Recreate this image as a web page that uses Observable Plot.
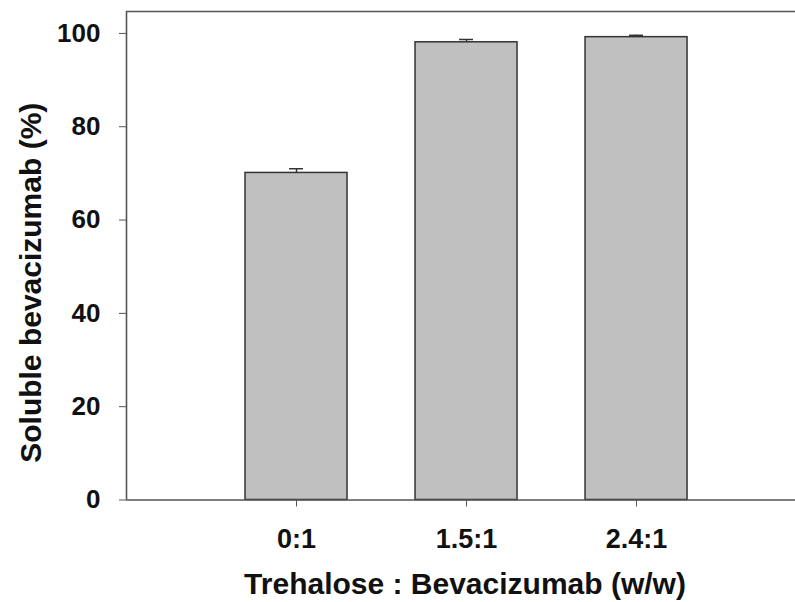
<!DOCTYPE html>
<html>
<head>
<meta charset="utf-8">
<script src="https://cdn.jsdelivr.net/npm/d3@7"></script>
<script src="https://cdn.jsdelivr.net/npm/@observablehq/plot@0.6"></script>
<style>
  body { margin: 0; background: #fff; }
  #chart svg { display: block; }
</style>
</head>
<body>
<div id="chart"></div>
<script>
// Ratio groups, mean soluble fraction and its error (upper whisker)
const ratios = ["0:1", "1.5:1", "2.4:1"];
const solublePct = [70.1, 98.1, 99.2];
const errorPct = [0.9, 0.6, 0.4];
const yTicks = [0, 20, 40, 60, 80, 100];
const yMax = 104.7;
const xTitle = "Trehalose : Bevacizumab (w/w)";
const yTitle = "Soluble bevacizumab (%)";

const rows = ratios.map((r, i) => ({pos: i + 1, ratio: r, value: solublePct[i], err: errorPct[i]}));

const font = "'Liberation Sans', Arial, sans-serif";
const axisColor = "#555";

const chart = Plot.plot({
  width: 795,
  height: 602,
  marginTop: 11,
  marginLeft: 126,
  marginRight: 0,
  marginBottom: 102.5,
  style: {fontFamily: font, fontWeight: "bold", fontSize: "25px", color: "#111", background: "#fff"},
  x: {type: "linear", domain: [0, 3.935], label: null},
  y: {domain: [0, yMax], label: null},
  marks: [
    // error whiskers and caps
    Plot.ruleX(rows, {x: "pos", y1: "value", y2: d => d.value + d.err, stroke: "#333", strokeWidth: 1.5}),
    Plot.ruleY(rows, {y: d => d.value + d.err, x1: d => d.pos - 0.041, x2: d => d.pos + 0.041, stroke: "#333", strokeWidth: 1.5}),
    // bars
    Plot.rect(rows, {x1: d => d.pos - 0.3, x2: d => d.pos + 0.3, y1: 0, y2: "value", fill: "#c0c0c0", stroke: "#333", strokeWidth: 1.5}),
    // axis frame: left, bottom and top lines
    Plot.ruleX([0], {stroke: axisColor, strokeWidth: 1.6}),
    Plot.ruleY([0], {stroke: axisColor, strokeWidth: 1.6}),
    Plot.ruleY([yMax], {stroke: axisColor, strokeWidth: 1.6}),
    Plot.axisX({ticks: rows.map(d => d.pos), tickFormat: p => ratios[p - 1], tickSize: 7, tickPadding: 22, stroke: axisColor, fill: "#111", fontSize: 27, label: null}),
    Plot.axisY({ticks: yTicks, tickSize: 7, tickPadding: 19, stroke: axisColor, fill: "#111", fontSize: 26, label: null}),
    // axis titles
    Plot.text([xTitle], {frameAnchor: "bottom", lineAnchor: "middle", textAnchor: "middle", dx: 4, dy: 84, fontSize: 30, fontWeight: "bold", fill: "#111"}),
    Plot.text([yTitle], {frameAnchor: "left", lineAnchor: "middle", textAnchor: "middle", rotate: -90, dx: -95, dy: 27, fontSize: 30, fontWeight: "bold", fill: "#111"})
  ]
});

document.getElementById("chart").appendChild(chart);
</script>
</body>
</html>
